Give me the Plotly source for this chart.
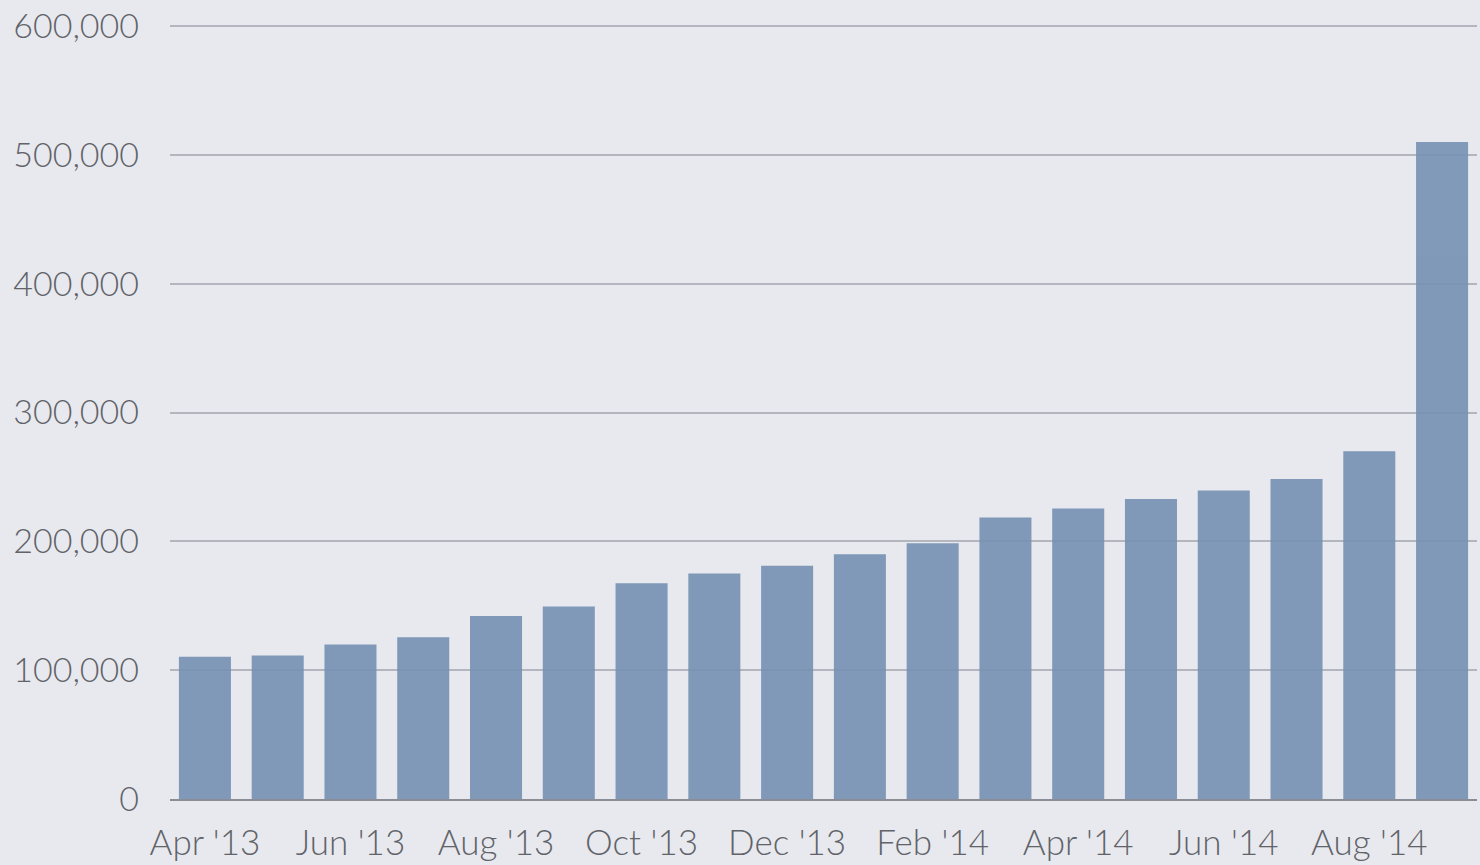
import plotly.graph_objects as go

# Monthly totals, Apr 2013 – Sep 2014
months = ["Apr '13", "May '13", "Jun '13", "Jul '13", "Aug '13", "Sep '13",
          "Oct '13", "Nov '13", "Dec '13", "Jan '14", "Feb '14", "Mar '14",
          "Apr '14", "May '14", "Jun '14", "Jul '14", "Aug '14", "Sep '14"]
values = [110500, 111500, 120000, 125500, 142000, 149500,
          167500, 175000, 181000, 190000, 198500, 218500,
          225500, 233000, 239500, 248500, 270000, 510000]

# only every other month is labelled on the axis
label_months = months[::2]
y_ticks = [0, 100000, 200000, 300000, 400000, 500000, 600000]

font_family = "Lato"
text_color = "#616369"
bg = "#e8e9ee"

fig = go.Figure(
    go.Bar(
        x=months,
        y=values,
        marker=dict(color="#7691b3", line=dict(width=0)),
        opacity=0.9,
    )
)

fig.update_layout(
    width=1480,
    height=865,
    margin=dict(l=170, r=3, t=21, b=66),
    paper_bgcolor=bg,
    plot_bgcolor=bg,
    bargap=0.285,
    showlegend=False,
    font=dict(family=font_family, size=34, color=text_color, weight=300),
)

fig.update_xaxes(
    type="category",
    range=[-0.48, len(months) - 0.52],
    tickmode="array",
    tickvals=label_months,
    ticktext=label_months,
    showgrid=False,
    showline=True,
    linecolor="#8a8d95",
    linewidth=2,
    ticks="",
    ticklabelstandoff=12,
    tickfont=dict(family=font_family, size=35, color=text_color, weight=300),
)

# a little headroom above 600,000 so its gridline is drawn
fig.update_yaxes(
    range=[0, 604000],
    tickmode="array",
    tickvals=y_ticks,
    tickformat=",d",
    showgrid=True,
    gridcolor="#b3b6be",
    gridwidth=1.5,
    zeroline=False,
    showline=False,
    ticks="",
    ticklabelstandoff=30,
    tickfont=dict(family=font_family, size=34, color=text_color, weight=300),
)

fig.write_html("out.html")
